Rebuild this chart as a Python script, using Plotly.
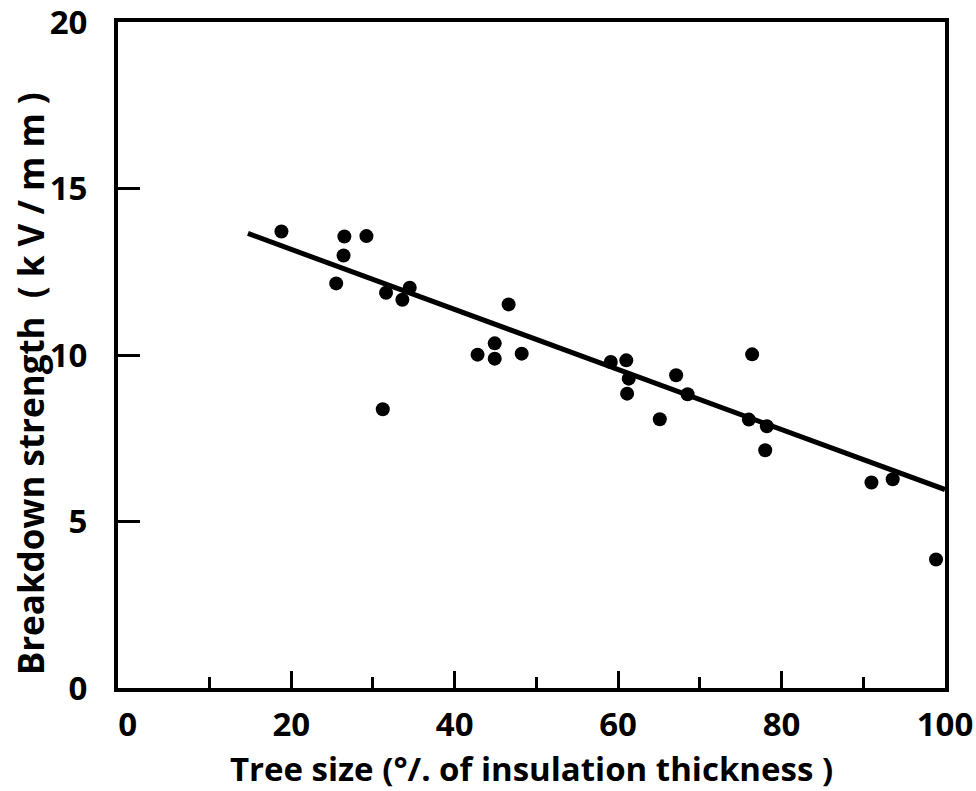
import plotly.graph_objects as go

# Data
tree_size = [18.8, 26.5, 29.2, 26.4, 25.5, 31.6, 34.5, 33.6, 46.6, 44.9, 42.8, 44.9, 48.2, 31.2,
             59.1, 61.0, 61.3, 61.1, 67.1, 68.5, 65.1, 76.4, 76.0, 78.2, 78.0, 91.0, 93.6, 98.9]
breakdown = [13.71, 13.56, 13.57, 12.99, 12.15, 11.87, 12.02, 11.66, 11.52, 10.35, 10.01, 9.89, 10.04, 8.37,
             9.79, 9.84, 9.29, 8.84, 9.39, 8.82, 8.07, 10.02, 8.06, 7.86, 7.14, 6.17, 6.27, 3.86]

fit_x = [14.7, 100]
fit_y = [13.65, 5.96]

x_ticks = [0, 20, 40, 60, 80, 100]
x_long_ticks = [20, 40, 60, 80]
x_short_ticks = [10, 30, 50, 70, 90]
y_ticks = [0, 5, 10, 15, 20]

FONT = "Open Sans"
XR = [-1.2, 100]

fig = go.Figure()
fig.add_trace(go.Scatter(x=fit_x, y=fit_y, mode="lines",
                         line=dict(color="black", width=5), showlegend=False, hoverinfo="skip"))
fig.add_trace(go.Scatter(x=tree_size, y=breakdown, mode="markers",
                         marker=dict(color="black", size=14), showlegend=False))
# invisible helpers so the overlay tick axes render
fig.add_trace(go.Scatter(x=[None], y=[None], xaxis="x2", yaxis="y", showlegend=False, hoverinfo="skip"))
fig.add_trace(go.Scatter(x=[None], y=[None], xaxis="x3", yaxis="y", showlegend=False, hoverinfo="skip"))

tick_common = dict(range=XR, overlaying="x", anchor="y", side="bottom", automargin=False,
                   showline=False, showgrid=False, zeroline=False,
                   showticklabels=False, ticks="inside", tickwidth=3, tickcolor="black")

fig.update_layout(
    width=976, height=791,
    margin=dict(l=118, r=31, t=22, b=103),
    paper_bgcolor="white", plot_bgcolor="white",
    font=dict(family=FONT, color="black"),
    xaxis=dict(
        range=XR, tickvals=x_ticks, ticktext=[str(v) for v in x_ticks],
        automargin=False,
        showline=True, linecolor="black", linewidth=4, mirror=True,
        showgrid=False, zeroline=False, ticks="",
        tickfont=dict(family=FONT, size=33, weight="bold"),
        ticklabelstandoff=4, ticklabeloverflow="allow",
        title=dict(text="Tree size (°/. of insulation thickness )",
                   font=dict(family=FONT, size=33, weight="bold"), standoff=22),
    ),
    xaxis2=dict(tickvals=x_long_ticks, ticklen=17, **tick_common),
    xaxis3=dict(tickvals=x_short_ticks, ticklen=11, **tick_common),
    yaxis=dict(
        range=[0, 20], tickvals=y_ticks, ticktext=[str(v) for v in y_ticks],
        automargin=False,
        showline=True, linecolor="black", linewidth=4, mirror=True,
        showgrid=False, zeroline=False,
        ticks="inside", ticklen=22, tickwidth=3, tickcolor="black",
        tickfont=dict(family=FONT, size=33, weight="bold"),
        ticklabelstandoff=20, ticklabeloverflow="allow",
    ),
    annotations=[dict(
        text="Breakdown strength  ( k V / m m )",
        xref="paper", yref="paper", x=-0.1064, y=0.456,
        xanchor="center", yanchor="middle", textangle=-90, showarrow=False,
        font=dict(family=FONT, size=35, weight="bold", color="black"),
    )],
)

fig.write_html("out.html")
